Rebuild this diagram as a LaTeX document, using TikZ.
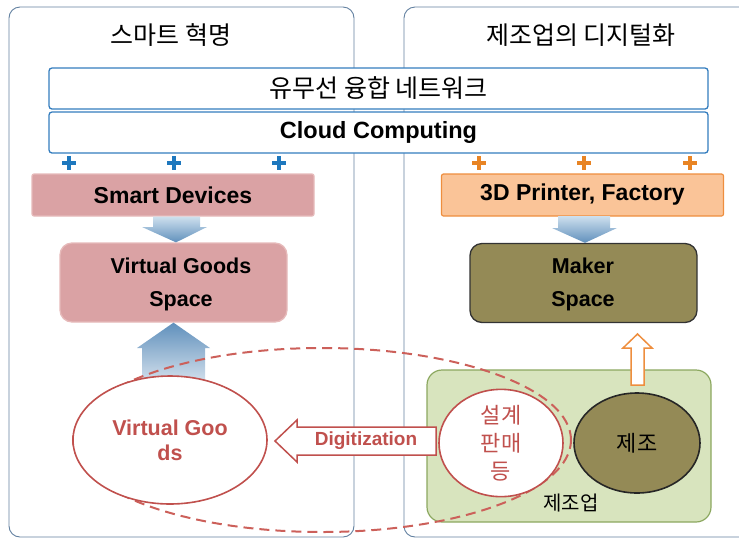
\documentclass[tikz,border=0pt]{standalone}
\usepackage{fontspec}
\setmainfont{Liberation Sans}
\newfontfamily\kr{Noto Sans CJK KR}
\usetikzlibrary{
    arrows.meta,
    calc,
    positioning,
    shapes.geometric
}
\definecolor{panelc}{RGB}{98,128,160}
\definecolor{netblue}{RGB}{52,125,190}
\definecolor{plusblue}{RGB}{30,120,190}
\definecolor{plusorange}{RGB}{232,132,36}
\definecolor{pinkfill}{RGB}{218,162,164}
\definecolor{pinkline}{RGB}{230,186,186}
\definecolor{orangefill}{RGB}{250,196,152}
\definecolor{orangeline}{RGB}{238,142,62}
\definecolor{olive}{RGB}{148,138,86}
\definecolor{greenfill}{RGB}{216,228,190}
\definecolor{greenline}{RGB}{140,168,96}
\definecolor{redc}{RGB}{192,80,77}
\definecolor{dashred}{RGB}{204,96,90}
\definecolor{arrowlight}{RGB}{206,224,238}
\definecolor{arrowdark}{RGB}{96,144,188}

\begin{document}
\begin{tikzpicture}[x=1pt, y=-1pt,
    panel/.style={draw=panelc, line width=0.9pt, rounded corners=11pt},
    netbox/.style={draw=netblue, line width=1.3pt, fill=white, rounded corners=3pt,
        minimum width=659pt, minimum height=41pt, inner sep=0pt},
    devbox/.style={minimum width=282pt, minimum height=42pt, inner sep=0pt,
        line width=1.2pt, rounded corners=2pt},
    spacebox/.style={minimum width=227pt, minimum height=79pt, inner sep=0pt,
        rounded corners=12pt, line width=1.3pt},
    eng/.style={font=\bfseries\fontsize{23}{27}\selectfont},
    engtwo/.style={font=\bfseries\fontsize{21.5}{33}\selectfont, align=center},
    korean/.style={font=\kr\fontsize{25}{29}\selectfont},
    plusb/.style={plusblue, line width=3.6pt},
    pluso/.style={plusorange, line width=3.6pt}]

    \useasboundingbox (0,0) rectangle (739,539);
    \clip (0,0) rectangle (739,539);

    \draw[panel] (9,7) rectangle (354,537);
    \draw[panel] (404,7) rectangle (760,537);

    \node[korean] (lefttitle) at (171,35) {스마트 혁명};
    \node[korean] (righttitle) at (581,35) {제조업의 디지털화};

    \node[netbox, korean] (net) at (378.5,88.5) {유무선 융합 네트워크};
    \node[netbox, font=\bfseries\fontsize{23.5}{27}\selectfont] (cloud) at (378.5,132.5) {Cloud Computing};

    \foreach \x in {69,174,279}
        \draw[plusb] (\x-7,163) -- (\x+7,163) (\x,156) -- (\x,170);
    \foreach \x in {479,584,690}
        \draw[pluso] (\x-7,163) -- (\x+7,163) (\x,156) -- (\x,170);

    \node[devbox, fill=pinkfill, draw=pinkline, eng] (sd) at (173,195) {Smart Devices};
    \node[devbox, fill=orangefill, draw=orangeline, eng] (fac) at (582.5,195) {3D Printer, Factory};

    \node[spacebox, fill=pinkfill, draw=pinkline] (vgs) at (173.5,282.5) {};
    \node[engtwo] (vgstext) at (181,284) {Virtual Goods\\Space};
    \node[spacebox, fill=olive, draw=black!80] (maker) at (583.5,283) {};
    \node[engtwo] (makertext) at (583,284) {Maker\\Space};

    \shade[top color=arrowlight, bottom color=arrowdark]
        ($(sd.south)+(-20,0)$) -- ($(sd.south)+(27,0)$) -- (200,227) -- (207,227)
        -- (vgs.north -| 176,0) -- (142,227) -- (153,227) -- cycle;
    \shade[top color=arrowlight, bottom color=arrowdark]
        (558,216) -- (610,216) -- (610,228) -- (617,228)
        -- (maker.north -| 585,0) -- (552,228) -- (558,228) -- cycle;
    \shade[top color=arrowdark, bottom color=white]
        (vgs.south -| 173.5,0) -- (210,348) -- (205,348) -- (205,405)
        -- (142,405) -- (142,348) -- (137,348) -- cycle;

    \node[draw=greenline, fill=greenfill, line width=1.2pt, rounded corners=15pt,
        minimum width=284pt, minimum height=152pt] (mfg) at (569,446) {};
    \node[font=\kr\fontsize{20}{24}\selectfont] (mfglabel) at (571,503) {제조업};

    \node[ellipse, draw=dashred, line width=2pt, dash pattern=on 10pt off 6pt,
        minimum width=498pt, minimum height=184pt] (area) at (322,440) {};

    \draw[redc, line width=1.5pt, fill=white]
        (436,427) -- (297,427) -- (297,420) -- (275,441) -- (297,462) -- (297,455)
        -- (436,455) -- cycle;
    \node[font=\bfseries\fontsize{19}{23}\selectfont, text=redc] (dig) at (366,441) {Digitization};

    \node[ellipse, draw=redc, line width=1.6pt, fill=white, minimum width=194pt,
        minimum height=128pt, align=center, text=redc,
        font=\bfseries\fontsize{21.5}{25}\selectfont] (vg) at (170,440) {Virtual Goo\\ds};

    \node[ellipse, draw=redc, line width=1.6pt, fill=white, minimum width=124pt,
        minimum height=100pt, inner sep=0pt, align=center, text=redc,
        font=\kr\fontsize{22}{28}\selectfont] (design) at (501,443) {설계\\판매\\등};
    \node[ellipse, draw=black!85, line width=1.6pt, fill=olive, minimum width=126pt,
        minimum height=100pt, font=\kr\fontsize{22}{26}\selectfont] (make) at (637,443) {제조};

    \draw[orangeline, line width=1.5pt, fill=white]
        (631,385) -- (631,348) -- (623,348) -- (637.5,334) -- (652,348) -- (644,348)
        -- (644,385) -- cycle;
\end{tikzpicture}
\end{document}
